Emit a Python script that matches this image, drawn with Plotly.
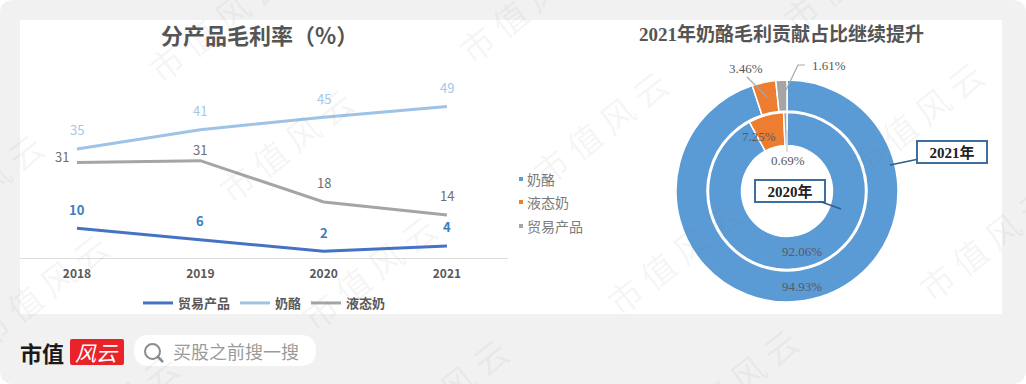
import plotly.graph_objects as go

W, H = 1026, 384
years = ["2018", "2019", "2020", "2021"]
trade_margin = [9.6, 5.9, 2.2, 3.9]
cheese_margin = [35.2, 41.4, 45.4, 48.9]
liquid_margin = [30.8, 31.4, 18.1, 13.9]
line_names = ["贸易产品", "奶酪", "液态奶"]
pie_labels = ["奶酪", "液态奶", "贸易产品"]
share_2021 = [94.93, 3.46, 1.61]
share_2020 = [92.06, 7.25, 0.69]
watermark_text = "市 值 风 云"

BLUE, LIGHT, GRAY = "#4472c4", "#9dc3e6", "#a5a5a5"
PIE_COLORS = ["#5b9bd5", "#ed7d31", "#a5a5a5"]
TXT = "#595959"
SANS = "Noto Sans CJK SC, Noto Sans, sans-serif"
SERIF = "Liberation Serif, Noto Sans CJK SC, serif"


def px(x):
    return x / W


def py(y):
    return 1 - y / H


def round_rect(x0, y0, x1, y1, r):
    pts = [
        ("M", x0 + r, y0), ("L", x1 - r, y0), ("Q", x1, y0, x1, y0 + r),
        ("L", x1, y1 - r), ("Q", x1, y1, x1 - r, y1), ("L", x0 + r, y1),
        ("Q", x0, y1, x0, y1 - r), ("L", x0, y0 + r), ("Q", x0, y0, x0 + r, y0),
    ]
    out = []
    for p in pts:
        coords = p[1:]
        pairs = [f"{px(coords[i]):.5f},{py(coords[i + 1]):.5f}" for i in range(0, len(coords), 2)]
        out.append(p[0] + " ".join(pairs))
    return " ".join(out) + " Z"


def poly(points):
    return "M" + " L".join(f"{px(a):.5f},{py(b):.5f}" for a, b in points)


def shape_path(path, fill=None, line=None, width=1, layer="below"):
    return dict(type="path", xref="paper", yref="paper", path=path, layer=layer,
                fillcolor=fill or "rgba(0,0,0,0)",
                line=dict(color=line or "rgba(0,0,0,0)", width=width if line else 0))


def note(x, y, text, size=13, color=TXT, family=SERIF, anchor="center", weight="normal", **kw):
    return dict(xref="paper", yref="paper", x=px(x), y=py(y), text=text, showarrow=False,
                font=dict(size=size, color=color, family=family, weight=weight), xanchor=anchor, yanchor="middle", **kw)


fig = go.Figure()

series = [(line_names[0], trade_margin, BLUE), (line_names[1], cheese_margin, LIGHT), (line_names[2], liquid_margin, GRAY)]
for name, vals, color in series:
    fig.add_trace(go.Scatter(x=years, y=vals, name=name, mode="lines", line=dict(color=color, width=3),
                             legend="legend", hoverinfo="skip"))

ring_cx, ring_cy, r_out, r_in = 787, 191, 111, 78.5
fig.add_trace(go.Pie(values=share_2021, labels=pie_labels, sort=False, direction="clockwise", rotation=0,
                     hole=80 / 111, textinfo="none", hoverinfo="skip", showlegend=False,
                     marker=dict(colors=PIE_COLORS, line=dict(color="white", width=1.5)),
                     domain=dict(x=[px(ring_cx - r_out), px(ring_cx + r_out)], y=[py(ring_cy + r_out), py(ring_cy - r_out)])))
fig.add_trace(go.Pie(values=share_2020, labels=pie_labels, sort=False, direction="clockwise", rotation=0,
                     hole=45.5 / 78.5, textinfo="none", hoverinfo="skip", showlegend=False,
                     marker=dict(colors=PIE_COLORS, line=dict(color="white", width=1.5)),
                     domain=dict(x=[px(ring_cx - r_in), px(ring_cx + r_in)], y=[py(ring_cy + r_in), py(ring_cy - r_in)])))

annotations = []

# data labels
LABEL_COL = {line_names[0]: "#3b7dbd", line_names[1]: "#a3c8ea", line_names[2]: "#6f6f6f"}
for name, vals, _ in series:
    for i, v in enumerate(vals):
        yshift, xshift = 19, 0
        if name == line_names[2] and i == 0:
            yshift, xshift = 6, -15
        if name == line_names[2] and i == 1:
            yshift = 11
        annotations.append(dict(x=i, y=v, xref="x", yref="y", text=f"{v:.0f}", showarrow=False,
                                yshift=yshift, xshift=xshift, xanchor="center", yanchor="middle",
                                font=dict(size=13, color=LABEL_COL[name], family=SANS,
                                          weight="bold" if name == line_names[0] else "normal")))

# titles
annotations.append(note(259, 34, "分产品毛利率（%）", size=22, family=SANS, color="#555555", weight="bold"))
annotations.append(note(781, 34, "2021年奶酪毛利贡献占比继续提升", size=19, color="#555555", weight="bold"))

# donut value labels
for x, y, t in [(746, 68, f"{share_2021[1]:.2f}%"), (829, 65, f"{share_2021[2]:.2f}%"), (802, 286, f"{share_2021[0]:.2f}%"),
                (759, 136, f"{share_2020[1]:.2f}%"), (788, 161, f"{share_2020[2]:.2f}%"), (802, 251, f"{share_2020[0]:.2f}%")]:
    annotations.append(note(x, y, t, size=13))

# donut key
key_rows = [179, 202, 226]
for y, t in zip(key_rows, pie_labels):
    annotations.append(note(527, y, t, size=14, color="#7a7a7a", family=SANS, anchor="left", xshift=-2))

# callouts
for tip, box, t in [((890, 165), (951.5, 152), "2021年"), ((841, 209), (789.5, 190.5), "2020年")]:
    annotations.append(dict(xref="paper", yref="paper", x=px(tip[0]), y=py(tip[1]), text=f"<b>{t}</b>", showarrow=True,
                            arrowhead=0, arrowwidth=1.5, arrowcolor="#2f5f8a", axref="pixel", ayref="pixel",
                            ax=box[0] - tip[0], ay=box[1] - tip[1], width=66, height=18,
                            bgcolor="white", bordercolor="#3d6f9e", borderwidth=2, borderpad=1,
                            font=dict(size=15, color="#222222", family=SERIF)))

# footer
annotations.append(note(42, 352, "<b>市值</b>", size=22, color="#1a1a1a", family=SANS))
annotations.append(note(97, 352, "<i>风云</i>", size=21, color="white", family=SANS))
annotations.append(note(236, 351, "买股之前搜一搜", size=18, color="#9a9a9a", family=SANS))

# watermark
for x, y in [(215, 25), (525, 5), (285, 145), (-25, 190), (40, 290), (368, 272), (110, 410), (440, 395),
             (600, 128), (673, 257), (915, 118), (985, 243), (850, -25), (730, 385)]:
    annotations.append(note(x, y, watermark_text, size=34, color="rgba(110,110,110,0.07)", family=SANS, textangle=-38))

shapes = [
    shape_path(round_rect(0, 0, W, H, 14), fill="#f1f1f1"),
    dict(type="rect", xref="paper", yref="paper", x0=px(20), x1=px(1002), y0=py(314), y1=py(20), layer="below",
         fillcolor="white", line=dict(width=0)),
    shape_path(round_rect(70, 339, 124, 365, 2), fill="#e8232a"),
    shape_path(round_rect(134, 335, 316, 366, 15.5), fill="white"),
    dict(type="circle", xref="paper", yref="paper", x0=px(145), x1=px(160), y0=py(359), y1=py(344), layer="below",
         line=dict(color="#8c8c8c", width=2), fillcolor="rgba(0,0,0,0)"),
    shape_path(poly([(157, 356), (163, 362)]), line="#8c8c8c", width=2.5),
    shape_path(poly([(747, 77), (767, 97)]), line="#a6a6a6", width=1.2, layer="above"),
    shape_path(poly([(805, 65), (798, 65), (786, 90)]), line="#a6a6a6", width=1.2, layer="above"),
    shape_path(poly([(787, 130), (787, 152)]), line="#c8c8c8", width=1.2, layer="above"),
]
for y, c in zip(key_rows, PIE_COLORS):
    shapes.append(dict(type="rect", xref="paper", yref="paper", x0=px(519), x1=px(523), y0=py(y + 2), y1=py(y - 2),
                       layer="below", fillcolor=c, line=dict(width=0)))

fig.update_layout(
    width=W, height=H, margin=dict(l=0, r=0, t=0, b=0), paper_bgcolor="white", plot_bgcolor="rgba(0,0,0,0)",
    font=dict(family=SANS, color=TXT), shapes=shapes, annotations=annotations,
    xaxis=dict(domain=[px(20), px(508)], type="category", range=[-0.462, 3.495], showgrid=False, zeroline=False,
               showline=True, linecolor="#dcdcdc", linewidth=1, ticks="outside", ticklen=5, tickcolor="rgba(0,0,0,0)",
               tickfont=dict(size=12, color="#595959", family=SANS, weight="bold"), anchor="y"),
    yaxis=dict(domain=[py(258), py(20)], range=[0, 76.8], visible=False, anchor="x"),
    legend=dict(orientation="h", x=px(138), y=py(303), xanchor="left", yanchor="middle",
                font=dict(size=13, color="#595959", family=SANS, weight="bold"), bgcolor="rgba(0,0,0,0)"),
)

fig.write_html("out.html", config=dict(displayModeBar=False),
               post_script="document.body.style.margin='0';document.body.style.overflow='hidden';")
